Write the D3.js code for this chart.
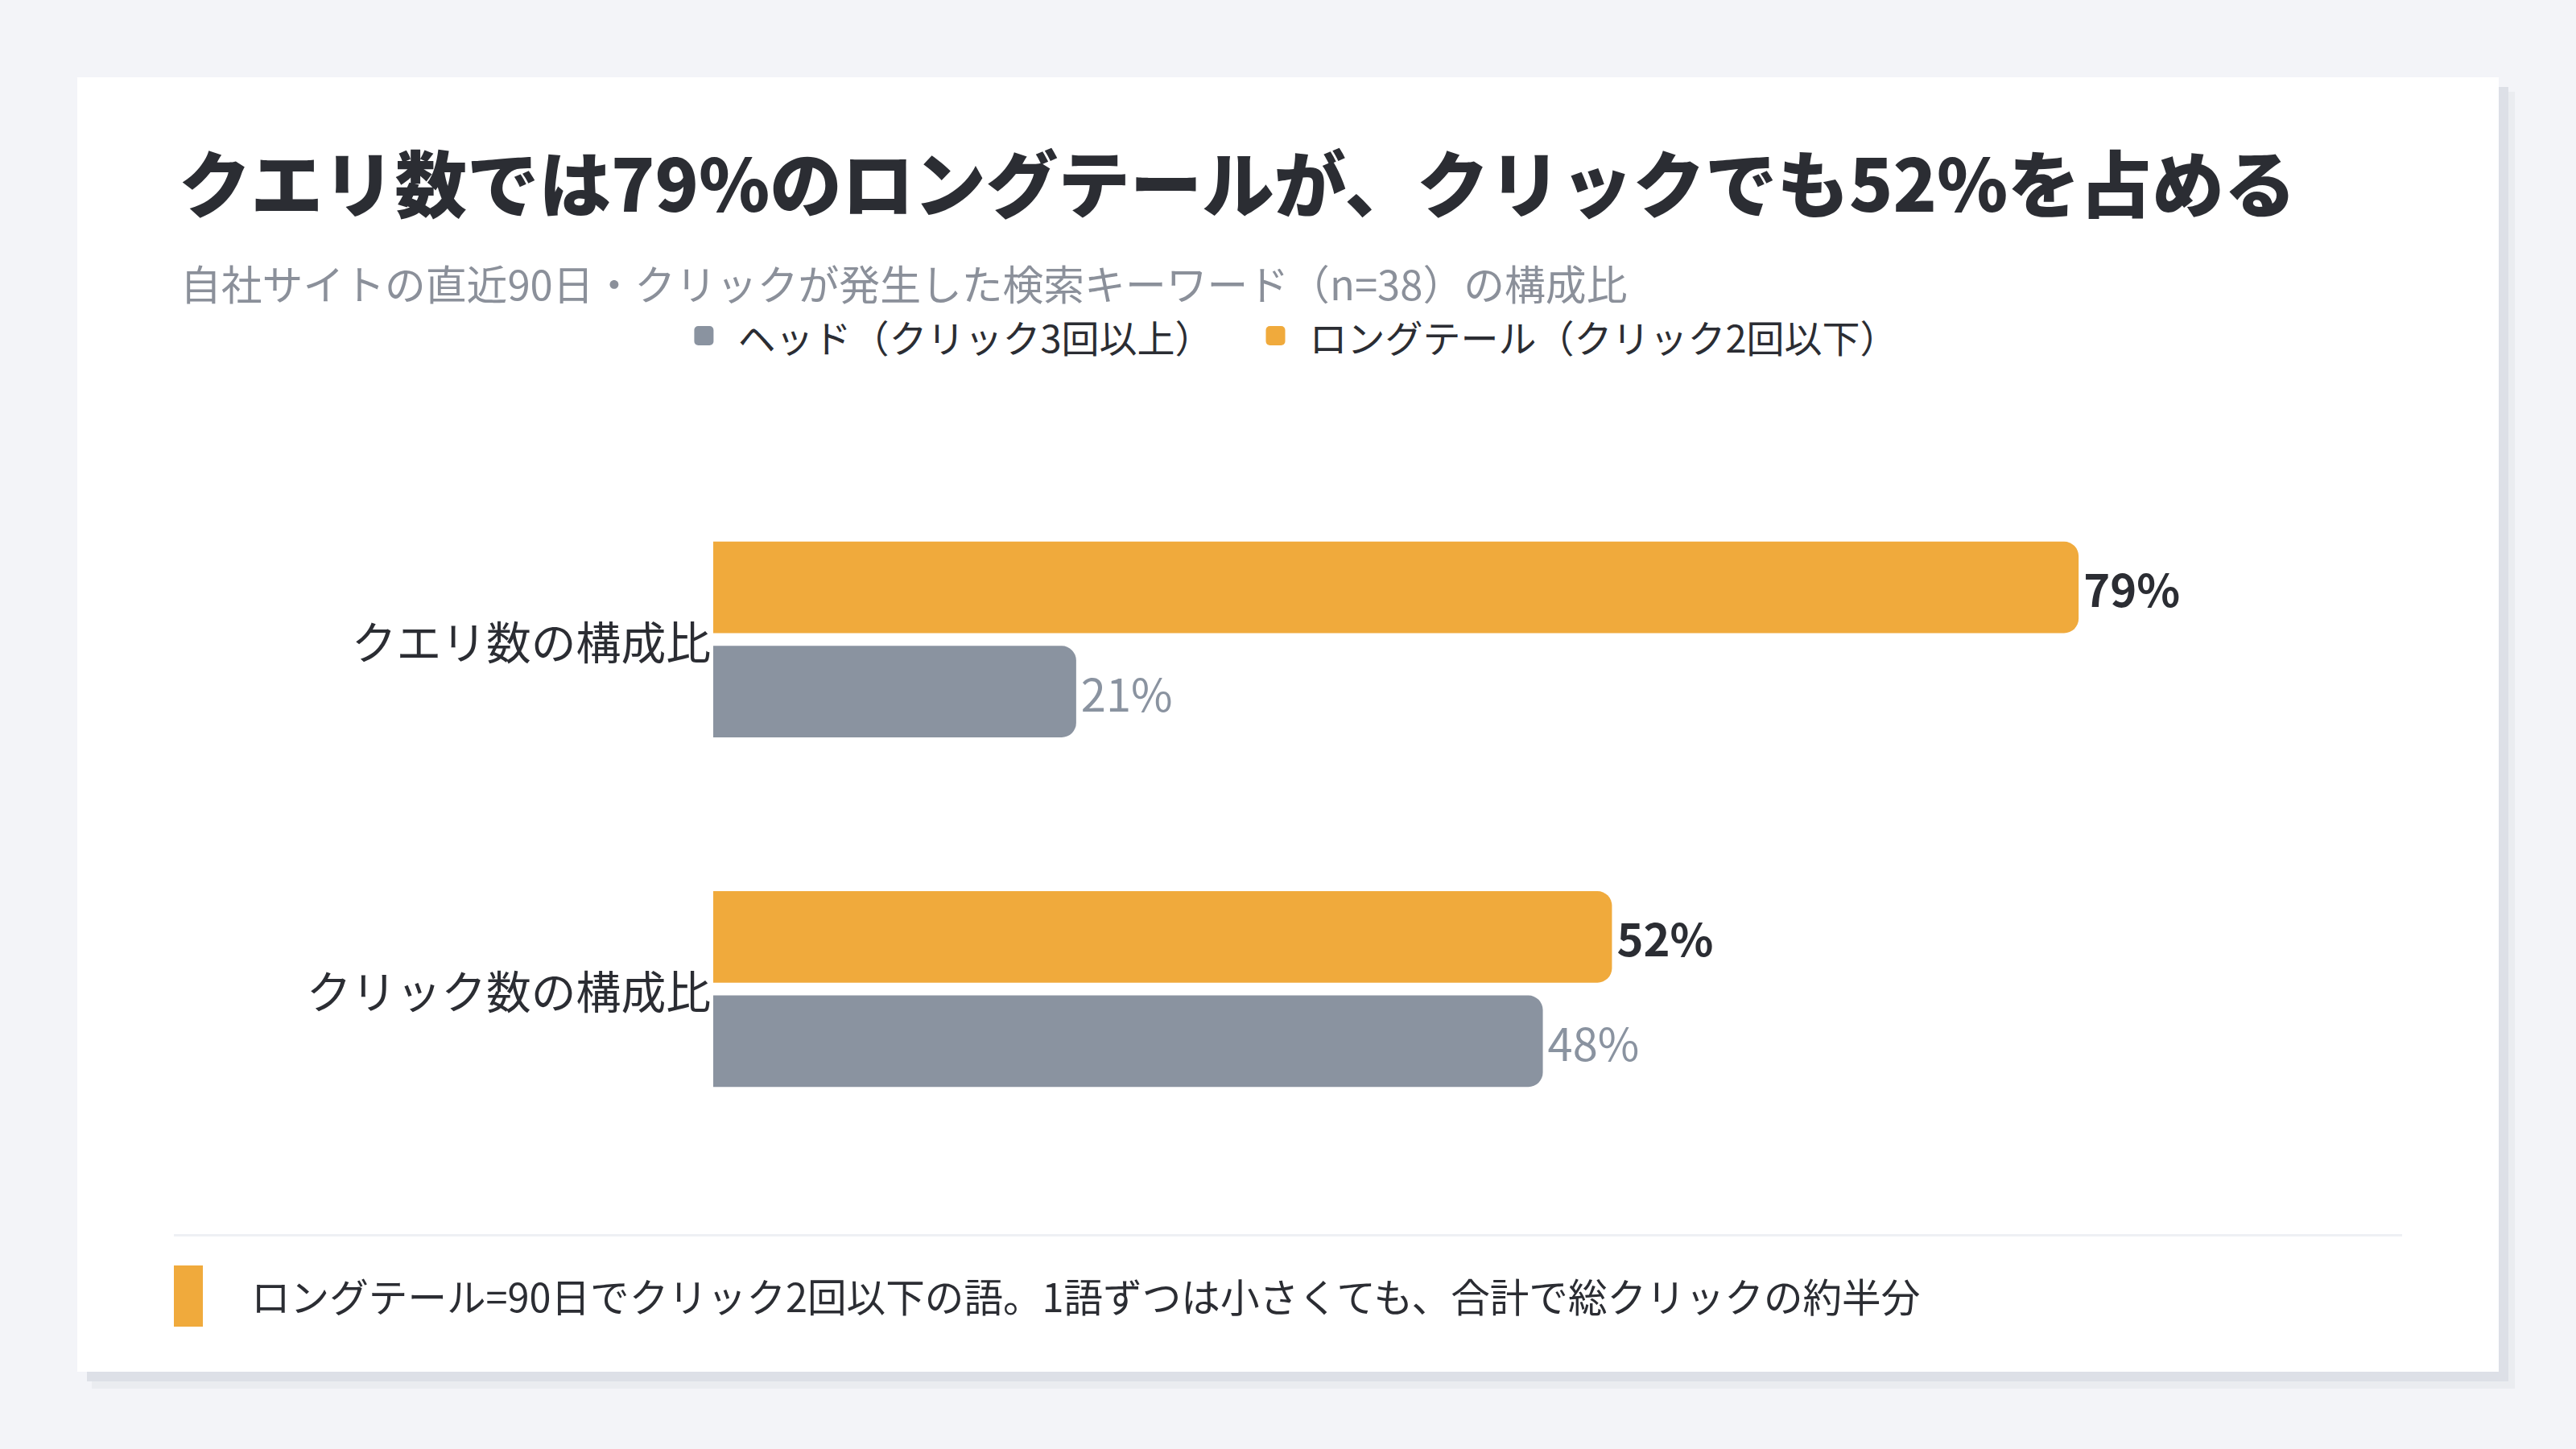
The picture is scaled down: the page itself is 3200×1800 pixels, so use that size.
<!DOCTYPE html>
<html lang="ja">
<head>
<meta charset="utf-8">
<script src="https://cdn.jsdelivr.net/npm/d3@7"></script>
<style>
  html, body { margin: 0; padding: 0; background: #f3f4f8; }
  svg { display: block; font-family: 'Noto Sans CJK JP', 'Noto Sans', sans-serif; }
</style>
</head>
<body>
<svg id="chart"></svg>
<script>
const WIDTH = 3200;
const HEIGHT = 1800;

// data
const categories = ['クエリ数の構成比', 'クリック数の構成比'];
const seriesKeys = ['long', 'head'];
const seriesNames = ['ヘッド（クリック3回以上）', 'ロングテール（クリック2回以下）'];
const longTailShare = [79, 52];
const headShare = [21, 48];

const COLOR = {
    bg: '#f3f4f8',
    card: '#ffffff',
    shadow: '#dde0e7',
    shadowLight: '#eaecf0',
    text: '#2b2d33',
    sub: '#8b909a',
    head: '#8a93a0',
    long: '#f0aa3c',
    rule: '#eef0f4',
}

const CARD = { x: 96, y: 96, w: 3008, h: 1608 };
const BAR_RADIUS = 18;

const svg = d3.select('#chart')
    .attr('width', WIDTH)
    .attr('height', HEIGHT)

svg.append('rect')
    .attr('width', WIDTH).attr('height', HEIGHT)
    .attr('fill', COLOR.bg)

// card + offset shadow
svg.append('rect')
    .attr('x', CARD.x + 18).attr('y', CARD.y + 18)
    .attr('width', CARD.w + 2).attr('height', CARD.h + 3)
    .attr('fill', COLOR.shadowLight)
svg.append('rect')
    .attr('x', CARD.x + 12).attr('y', CARD.y + 12)
    .attr('width', CARD.w).attr('height', CARD.h)
    .attr('fill', COLOR.shadow)
svg.append('rect')
    .attr('x', CARD.x).attr('y', CARD.y)
    .attr('width', CARD.w).attr('height', CARD.h)
    .attr('fill', COLOR.card)

// title / subtitle
svg.append('text')
    .attr('x', 222).attr('y', 224)
    .attr('dominant-baseline', 'central')
    .attr('font-size', 89.5)
    .attr('font-weight', 900)
    .attr('fill', COLOR.text)
    .text('クエリ数では79%のロングテールが、クリックでも52%を占める')

svg.append('text')
    .attr('x', 224).attr('y', 351)
    .attr('dominant-baseline', 'central')
    .attr('font-size', 50.8)
    .attr('fill', COLOR.sub)
    .text('自社サイトの直近90日・クリックが発生した検索キーワード（n=38）の構成比')

// legend, centred on the card
const legendColors = [COLOR.head, COLOR.long];
const legend = svg.append('g')
let lx = 0;
seriesNames.forEach((name, i) => {
    const item = legend.append('g').attr('transform', `translate(${lx},0)`)
    item.append('rect')
        .attr('x', 0).attr('y', -12)
        .attr('width', 24).attr('height', 24)
        .attr('rx', 5)
        .attr('fill', legendColors[i])
    const t = item.append('text')
        .attr('x', 54).attr('y', 0)
        .attr('dominant-baseline', 'central')
        .attr('font-size', 47)
        .attr('fill', COLOR.text)
        .text(name)
    lx += 54 + t.node().getComputedTextLength() + 66;
})
const legendWidth = lx - 66;
legend.attr('transform', `translate(${1610 - legendWidth / 2},417)`)

// scales
const x = d3.scaleLinear()
    .domain([0, 100])
    .range([886, 3033])

const y = d3.scaleBand()
    .domain(categories)
    .range([586, 1437])
    .paddingInner(0.44)
    .paddingOuter(0.2)

const ySub = d3.scaleBand()
    .domain(seriesKeys)
    .range([0, y.bandwidth()])
    .paddingInner(0.123)

const rows = categories.map((c, i) => ({
    category: c,
    values: [
        { key: 'long', value: longTailShare[i] },
        { key: 'head', value: headShare[i] },
    ]
}))

// bar with square left end and rounded right end
function barPath(x0, x1, y0, h, r) {
    r = Math.min(r, (x1 - x0), h / 2);
    return `M${x0},${y0}H${x1 - r}A${r},${r} 0 0 1 ${x1},${y0 + r}` +
        `V${y0 + h - r}A${r},${r} 0 0 1 ${x1 - r},${y0 + h}H${x0}Z`;
}

const groups = svg.append('g')
    .selectAll('g')
    .data(rows)
    .enter().append('g')
    .attr('transform', d => `translate(0,${y(d.category)})`)

groups.selectAll('path')
    .data(d => d.values)
    .enter().append('path')
    .attr('d', d => barPath(x(0), x(d.value), ySub(d.key), ySub.bandwidth(), BAR_RADIUS))
    .attr('fill', d => d.key === 'long' ? COLOR.long : COLOR.head)

groups.selectAll('text.value')
    .data(d => d.values)
    .enter().append('text')
    .attr('class', 'value')
    .attr('x', d => x(d.value) + 6)
    .attr('y', d => ySub(d.key) + ySub.bandwidth() / 2)
    .attr('dominant-baseline', 'central')
    .attr('font-size', 56)
    .attr('font-weight', d => d.key === 'long' ? 700 : 400)
    .attr('fill', d => d.key === 'long' ? COLOR.text : COLOR.head)
    .text(d => d.value + '%')

// category axis labels
const yAxis = d3.axisLeft(y).tickSize(0).tickPadding(3)
const axisG = svg.append('g')
    .attr('transform', `translate(${x(0)},0)`)
    .call(yAxis)
axisG.select('.domain').remove()
axisG.selectAll('text')
    .attr('font-size', 55.8)
    .attr('font-family', "'Noto Sans CJK JP', sans-serif")
    .attr('fill', COLOR.text)
    .attr('dy', null)
    .attr('dominant-baseline', 'central')

// footer
svg.append('rect')
    .attr('x', 216).attr('y', 1533)
    .attr('width', 2768).attr('height', 3)
    .attr('fill', COLOR.rule)
svg.append('rect')
    .attr('x', 216).attr('y', 1572)
    .attr('width', 36).attr('height', 76)
    .attr('fill', COLOR.long)
svg.append('text')
    .attr('x', 312).attr('y', 1609)
    .attr('dominant-baseline', 'central')
    .attr('font-size', 48.6)
    .attr('fill', COLOR.text)
    .text('ロングテール=90日でクリック2回以下の語。1語ずつは小さくても、合計で総クリックの約半分')
</script>
</body>
</html>
